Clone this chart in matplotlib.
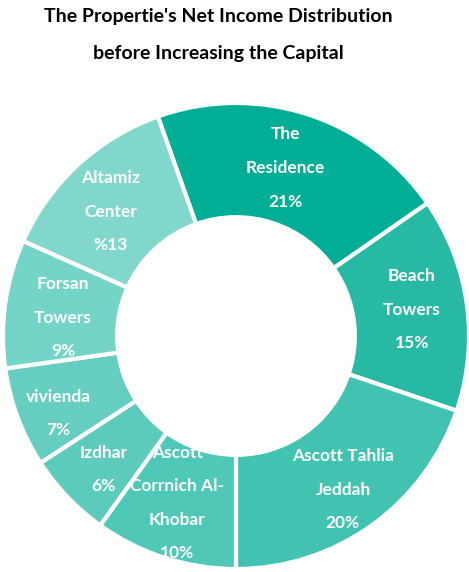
import matplotlib.pyplot as plt
from matplotlib.patches import Circle
import numpy as np

labels = ['The\nResidence\n21%', 'Beach\nTowers\n15%', 'Ascott Tahlia\nJeddah\n20%',
          'Ascott\nCorrnich Al-\nKhobar\n10%', 'Izdhar\n6%', 'vivienda\n7%',
          'Forsan\nTowers\n9%', 'Altamiz\nCenter\n%13']
values = [21, 15, 20, 10, 6, 7, 9, 13]
colors = ['#00ae96', '#27b9a3', '#42c3b1', '#4fc8b7', '#5ccbbc', '#66cec0', '#74d4c7', '#81d7cb']
# small label nudges in pixels (x right, y down), like the original layout
nudges = [(-6, 5), (-4, -1), (1, 6), (-3, -6), (-1, 8), (-7, 14), (7, 7), (-2, 9)]

plt.rcParams['font.family'] = ['Lato', 'DejaVu Sans']

fig = plt.figure(figsize=(4.69, 5.72), dpi=100)
# pie centre ~(236, 336) px, outer radius ~233 px
ax = fig.add_axes([3 / 469, 3 / 572, 466 / 469, 466 / 572])

# boundary between Ascott Tahlia and Ascott Corrnich sits at the bottom
start = -90 + sum(values[:3]) / sum(values) * 360
wedges, _ = ax.pie(values, colors=colors, startangle=start, counterclock=False,
                   wedgeprops=dict(width=0.49, edgecolor='white', linewidth=3))
ax.set_xlim(-1, 1)
ax.set_ylim(-1, 1)

px = 1 / 233
for w, lab, (nx, ny) in zip(wedges, labels, nudges):
    ang = np.deg2rad((w.theta1 + w.theta2) / 2)
    r = 0.78
    ax.text(r * np.cos(ang) + nx * px, r * np.sin(ang) - ny * px, lab, ha='center', va='center',
            color='white', fontsize=12.5, fontweight='bold', linespacing=2.35, zorder=3)

# hole drawn over the labels (the top of "Ascott" gets clipped in the original)
ax.add_patch(Circle((0, 0), 0.51 + 1.5 * px, facecolor='white', edgecolor='none', zorder=4))

fig.text(218 / 469, 1 - 35 / 572, "The Propertie's Net Income Distribution\nbefore Increasing the Capital",
         ha='center', va='center', fontsize=14, fontweight='bold', linespacing=2.45)

fig.savefig('out.png', dpi=100)
